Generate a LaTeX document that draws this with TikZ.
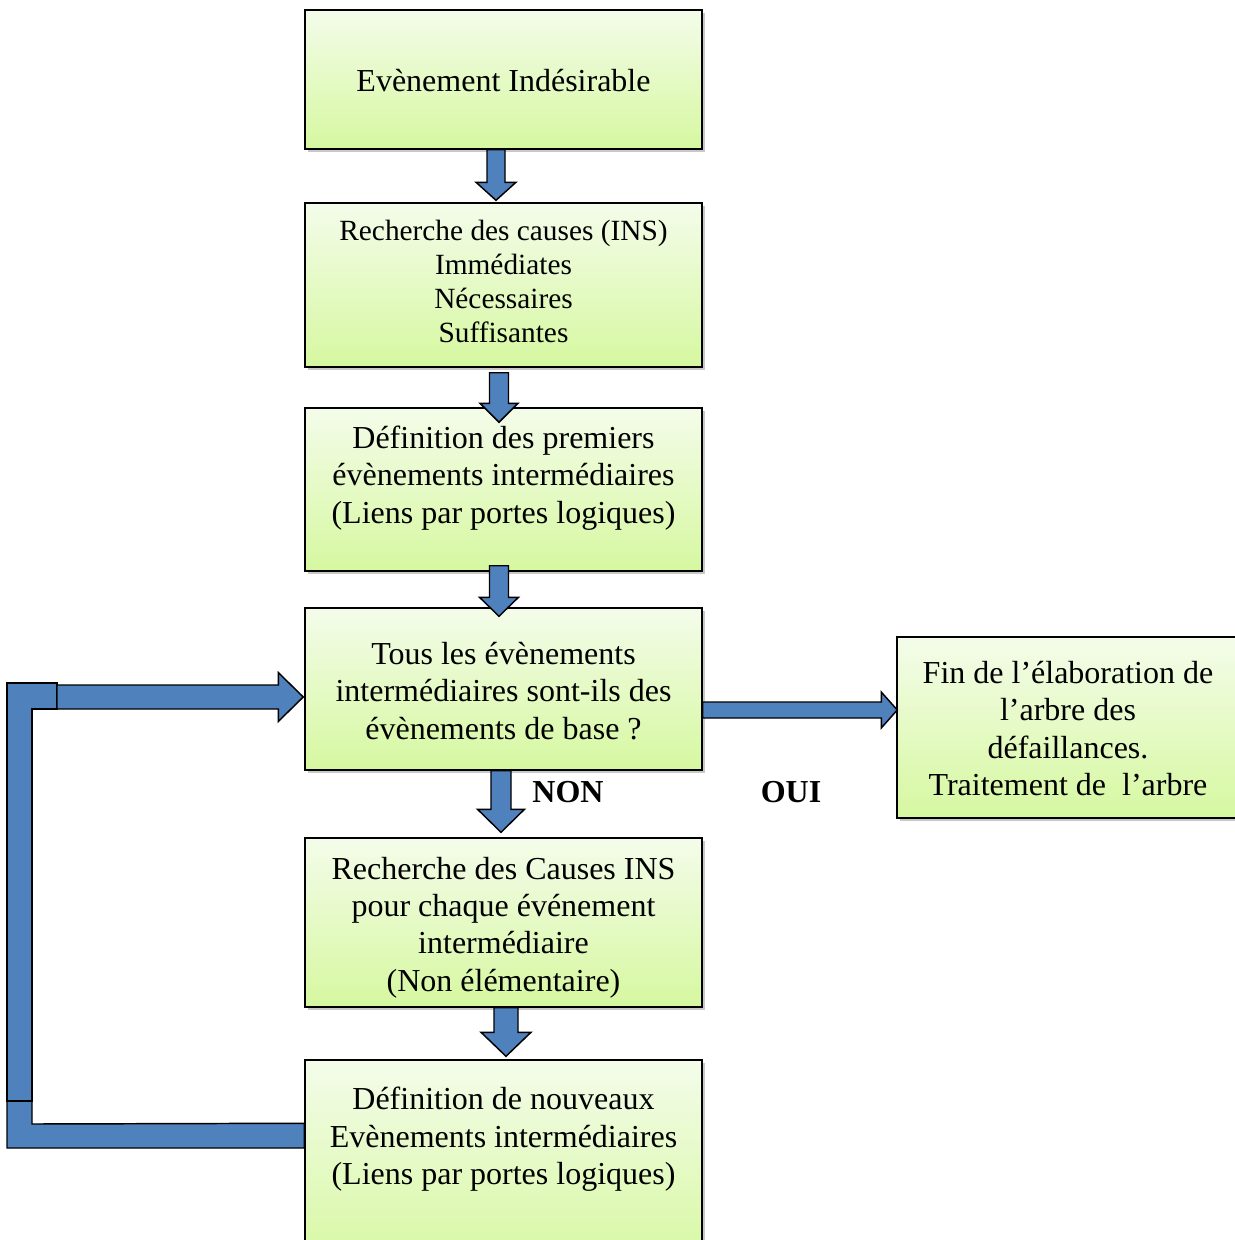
\documentclass[tikz,border=0pt]{standalone}
\usepackage{fontspec}
\setmainfont{Liberation Serif}
\usetikzlibrary{calc,fit,shadows}
\definecolor{boxtop}{RGB}{244,252,234}
\definecolor{boxbot}{RGB}{214,248,160}
\definecolor{arrblue}{RGB}{79,129,189}
\tikzset{
  box/.style={draw=black, line width=1.1pt, inner sep=0pt, rectangle,
    top color=boxtop, bottom color=boxbot,
    drop shadow={shadow xshift=2.5pt, shadow yshift=-2.5pt, opacity=0.3, fill=black!70}},
  txt/.style={inner sep=0pt, align=center, font=\fontsize{24}{28.1}\selectfont},
  txtsmall/.style={inner sep=0pt, align=center, font=\fontsize{22}{25.5}\selectfont},
  lbl/.style={inner sep=0pt, font=\fontsize{24}{28}\selectfont\bfseries},
  barrow/.style={draw=black, line width=1.1pt, fill=arrblue, line join=miter}
}
\newcommand{\vblock}[5]{%
  \draw[barrow] let \p1=(#1), \p2=(#2) in
   ({\x2-#3*0.75pt},\y1) -- ({\x2+#3*0.75pt},\y1) -- ({\x2+#3*0.75pt},{\y2+#5*0.75pt})
   -- ({\x2+#4*0.75pt},{\y2+#5*0.75pt}) -- (\x2,\y2) -- ({\x2-#4*0.75pt},{\y2+#5*0.75pt})
   -- ({\x2-#3*0.75pt},{\y2+#5*0.75pt}) -- cycle;}
\newcommand{\hblock}[5]{%
  \draw[barrow] let \p1=(#1), \p2=(#2) in
   (\x1,{\y2+#3*0.75pt}) -- ({\x2-#5*0.75pt},{\y2+#3*0.75pt}) -- ({\x2-#5*0.75pt},{\y2+#4*0.75pt})
   -- (\x2,\y2) -- ({\x2-#5*0.75pt},{\y2-#4*0.75pt}) -- ({\x2-#5*0.75pt},{\y2-#3*0.75pt})
   -- (\x1,{\y2-#3*0.75pt}) -- cycle;}
\begin{document}
\begin{tikzpicture}[x=0.75pt,y=-0.75pt]
\useasboundingbox (0,0) rectangle (1235,1240);
\clip (0,0) rectangle (1235,1240);
\fill[white] (0,0) rectangle (1235,1240);

% boxes
\node[box, fit={(305,10)(702,149)}] (b1) {};
\node[box, fit={(305,203)(702,367)}] (b2) {};
\node[box, fit={(305,408)(702,571)}] (b3) {};
\node[box, fit={(305,608)(702,770)}] (b4) {};
\node[box, fit={(305,838)(702,1007)}] (b5) {};
\node[box, fit={(305,1060)(702,1270)}] (b6) {};
\node[box, fit={(897,637)(1240,818)}] (b7) {};

% texts
\node[txt] (t1) at (503.5,81) {Evènement Indésirable};
\node[txtsmall] (t2) at (503.5,281) {Recherche des causes (INS)\\Immédiates\\Nécessaires\\Suffisantes};
\node[txt] (t3) at (503.5,478) {Définition des premiers\\évènements intermédiaires\\(Liens par portes logiques)};
\node[txt] (t4) at (503.5,691) {Tous les évènements\\intermédiaires sont-ils des\\évènements de base ?};
\node[txt] (t5) at (503.5,927.5) {Recherche des Causes INS\\pour chaque événement\\intermédiaire\\(Non élémentaire)};
\node[txt] (t6) at (503.5,1139.5) {Définition de nouveaux\\Evènements intermédiaires\\(Liens par portes logiques)};
\node[txt] (t7) at (1068,728.5) {Fin de l’élaboration de\\l’arbre des\\défaillances.\\Traitement de\ \ l’arbre};

\node[lbl] (non) at (568,792) {NON};
\node[lbl] (oui) at (791,792) {OUI};

% vertical block arrows
\coordinate (a1s) at ($(b1.south)+(-7.5,0)$);
\coordinate (a1e) at ($(b2.north)+(-7.5,-2)$);
\vblock{a1s}{a1e}{9}{20}{18}
\coordinate (a2s) at ($(b2.south)+(-5,5)$);
\coordinate (a2e) at ($(b3.north)+(-4.5,15)$);
\vblock{a2s}{a2e}{9.5}{19}{19}
\coordinate (a3s) at ($(b3.south)+(-5,-6)$);
\coordinate (a3e) at ($(b4.north)+(-4.5,9)$);
\vblock{a3s}{a3e}{9.5}{19.5}{19}
\coordinate (a4s) at ($(b4.south)+(-2,0)$);
\coordinate (a4e) at ($(b5.north)+(-2.5,-5)$);
\vblock{a4s}{a4e}{10}{23.5}{23}
\coordinate (a5s) at ($(b5.south)+(2.5,0)$);
\coordinate (a5e) at ($(b6.north)+(2.5,-3)$);
\vblock{a5s}{a5e}{12}{25}{24}

% OUI arrow
\coordinate (a6e) at ($(b7.west)+(1,-17.5)$);
\hblock{b4.east}{a6e}{8}{18}{16}

% loop back
\coordinate (lb) at ($(b6.north west)+(0,64)$);
\coordinate (lt) at ($(b4.west)+(-1,8)$);
\coordinate (cT) at (7,683);
\coordinate (cB) at (7,1148);
\draw[barrow] (lb) -- ($(cB)+(25,-24)$) -- ($(cB)+(25,-47)$) -- ($(cB)+(0,-47)$) -- (cB) -- (lb |- cB) -- cycle;
\draw[barrow] ($(cT)+(50,0)$) -- (cT) -- ($(cB)+(0,-47)$) -- ($(cB)+(25,-47)$) -- ($(cT)+(25,26)$) -- ($(cT)+(50,26)$) -- cycle;
\draw[barrow] ($(cT)+(50,2)$) -- ($(lt)+(-25,-12)$) -- ($(lt)+(-25,-24.5)$) -- (lt) -- ($(lt)+(-25,24.5)$) -- ($(lt)+(-25,12)$) -- ($(cT)+(50,26)$) -- cycle;
\end{tikzpicture}
\end{document}
